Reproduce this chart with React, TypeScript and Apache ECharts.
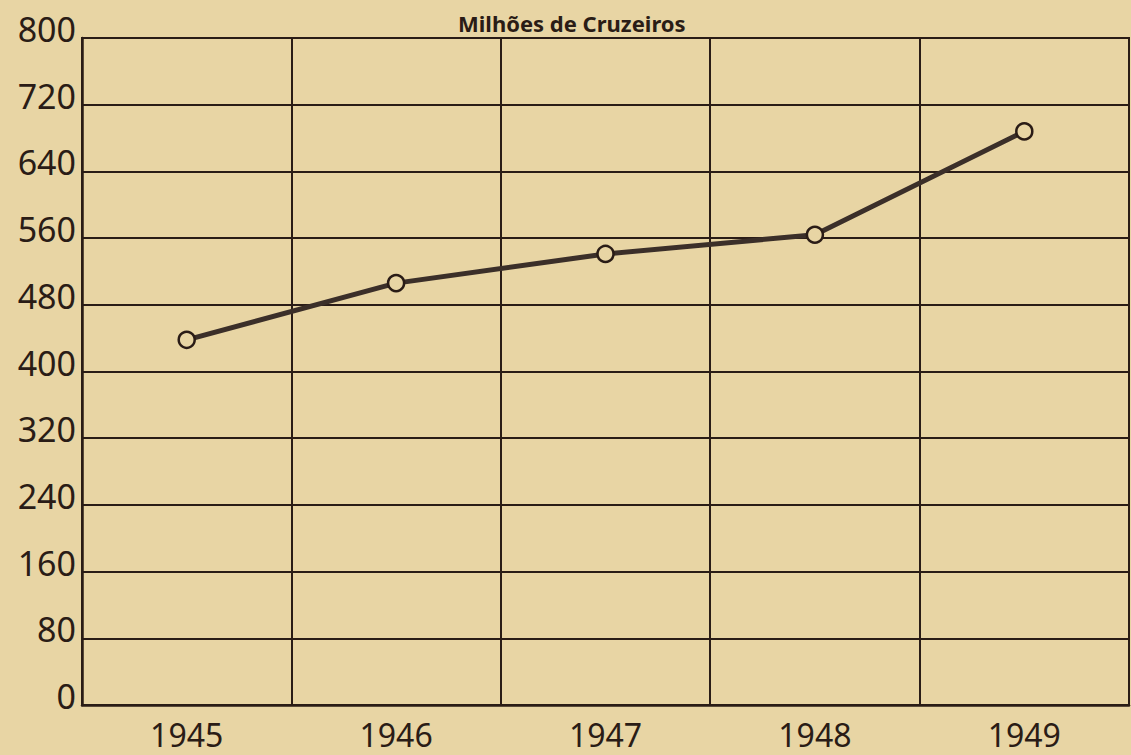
import React, { useEffect, useRef } from "react";
import * as echarts from "echarts";

const years = ["1945", "1946", "1947", "1948", "1949"];
const values = [438, 506, 541, 564, 688];
const yTicks = { min: 0, max: 800, interval: 80 };
const titleText = "Milhões de Cruzeiros";

const BG = "#e8d5a4";
const INK = "#2a1c16";

export default function App() {
  const ref = useRef<HTMLDivElement>(null);
  useEffect(() => {
    document.body.style.margin = "0";
    document.body.style.background = BG;
    const chart = echarts.init(ref.current!, null, { renderer: "svg" });
    chart.setOption({
      animation: false,
      backgroundColor: BG,
      title: {
        text: titleText,
        left: 453,
        top: 7,
        textStyle: {
          fontFamily: "Noto Sans",
          fontWeight: "bold",
          fontSize: 22,
          color: INK,
        },
      },
      grid: {
        left: 82,
        right: 2,
        top: 38,
        bottom: 50,
        show: true,
        borderColor: INK,
        borderWidth: 2,
        backgroundColor: "transparent",
      },
      xAxis: {
        type: "category",
        data: years,
        boundaryGap: true,
        axisLine: { show: true, lineStyle: { color: INK, width: 2.5 } },
        axisTick: { show: false },
        splitLine: { show: true, lineStyle: { color: INK, width: 2 } },
        axisLabel: {
          color: INK,
          fontFamily: "Noto Sans",
          fontSize: 32,
          margin: 13,
        },
      },
      yAxis: {
        type: "value",
        min: yTicks.min,
        max: yTicks.max,
        interval: yTicks.interval,
        axisLine: { show: true, lineStyle: { color: INK, width: 2.5 } },
        axisTick: { show: false },
        splitLine: { show: true, lineStyle: { color: INK, width: 2 } },
        axisLabel: {
          color: INK,
          fontFamily: "Noto Sans",
          fontSize: 34,
          margin: 6,
          verticalAlign: "bottom",
          lineHeight: 18,
        },
      },
      series: [
        {
          type: "line",
          data: values,
          symbol: "circle",
          symbolSize: 16,
          showSymbol: true,
          lineStyle: { color: "#3b2f29", width: 5 },
          itemStyle: { color: BG, borderColor: INK, borderWidth: 2.5 },
          z: 5,
        },
      ],
    });
    return () => chart.dispose();
  }, []);
  return <div ref={ref} style={{ width: 1131, height: 755 }} />;
}
